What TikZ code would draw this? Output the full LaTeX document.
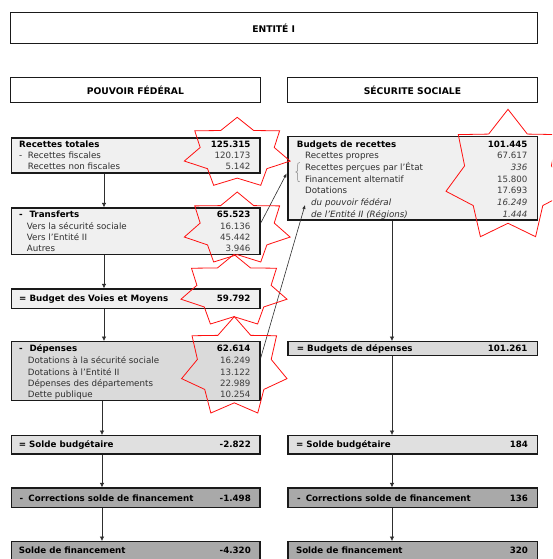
\documentclass[tikz,border=0pt]{standalone}
\usepackage{fontspec}
\setmainfont{DejaVu Sans}
\usetikzlibrary{arrows.meta}
\definecolor{lightbox}{HTML}{F0F0F0}
\definecolor{midbox}{HTML}{DADADA}
\definecolor{soldebox}{HTML}{E0E0E0}
\definecolor{darkbox}{HTML}{A9A9A9}
\definecolor{bord}{HTML}{1A1A1A}
\definecolor{txt}{HTML}{2E2E2E}
\definecolor{numtxt}{HTML}{3C3C3C}
\definecolor{starred}{HTML}{FF1010}
\newcommand\redstar[4]{%
  \begin{scope}[shift={(#1,#2)},xscale=#3,yscale=#4]
    \draw[starline] (0,-1) -- (0.312,-0.611) -- (0.802,-0.603) -- (0.700,-0.112)
      -- (1,0.287) -- (0.561,0.511) -- (0.445,1) -- (0,0.789) -- (-0.445,1)
      -- (-0.561,0.511) -- (-1,0.287) -- (-0.700,-0.112) -- (-0.802,-0.603)
      -- (-0.312,-0.611) -- cycle;
  \end{scope}}
\begin{document}
\begin{tikzpicture}[x=1pt,y=-1pt,
  hdr/.style={draw=bord, line width=0.9pt, fill=white, anchor=north west, inner sep=0,
    font=\bfseries\fontsize{9.2}{10}\selectfont},
  bx/.style={draw=bord, line width=1.3pt, anchor=north west, inner sep=0},
  lab/.style={anchor=west, inner sep=0, text height=6.3pt, text depth=0pt,
    font=\fontsize{8.7}{10}\selectfont, text=txt},
  blab/.style={lab, font=\bfseries\fontsize{8.7}{10}\selectfont, text=black},
  ilab/.style={lab, font=\itshape\fontsize{8.7}{10}\selectfont},
  num/.style={anchor=east, inner sep=0, text height=6.3pt, text depth=0pt,
    font=\fontsize{8.7}{10}\selectfont, text=numtxt},
  bnum/.style={num, font=\bfseries\fontsize{8.7}{10}\selectfont, text=black},
  inum/.style={num, font=\itshape\fontsize{8.7}{10}\selectfont},
  arr/.style={draw=txt, line width=0.6pt, -{Latex[length=4.5pt,width=4.5pt]}},
  starline/.style={draw=starred, line width=0.8pt, line join=miter},
]
\useasboundingbox (0,0) rectangle (552,559);
\clip (0,0) rectangle (552,559);
\fill[white] (0,0) rectangle (552,559);

% header boxes
\node[hdr, minimum width=526.5pt, minimum height=30.4pt] (ent) at (10,12.3) {ENTITÉ I};
\node[hdr, minimum width=250pt, minimum height=25pt] (pf) at (10,77.3) {POUVOIR FÉDÉRAL};
\node[hdr, minimum width=250pt, minimum height=25pt] (ss) at (287,77.3) {SÉCURITE SOCIALE};

% left column boxes
\node[bx, fill=lightbox, minimum width=248.3pt, minimum height=35pt] (rt) at (11,137.3) {};
\node[bx, fill=lightbox, minimum width=248.3pt, minimum height=46.7pt] (tr) at (11,207.3) {};
\node[bx, fill=lightbox, minimum width=248.3pt, minimum height=19.4pt] (bvm) at (11,288.3) {};
\node[bx, fill=midbox, minimum width=248.3pt, minimum height=59pt] (dep) at (11,341) {};
\node[bx, fill=soldebox, minimum width=248.3pt, minimum height=18.3pt] (sbl) at (11,435) {};
\node[bx, fill=darkbox, minimum width=248.3pt, minimum height=19.4pt] (csl) at (11,487.3) {};
\node[bx, fill=darkbox, minimum width=248.3pt, minimum height=30pt] (sfl) at (11,541) {};

% right column boxes
\node[bx, fill=lightbox, minimum width=249.2pt, minimum height=83.3pt] (br) at (287.3,136) {};
\node[bx, fill=midbox, minimum width=249.2pt, minimum height=14pt] (bd) at (287.3,341) {};
\node[bx, fill=soldebox, minimum width=249.2pt, minimum height=18.3pt] (sbr) at (287.3,435) {};
\node[bx, fill=darkbox, minimum width=249.2pt, minimum height=19.4pt] (csr) at (287.3,487.3) {};
\node[bx, fill=darkbox, minimum width=249.2pt, minimum height=30pt] (sfr) at (287.3,541) {};

% texts: Recettes totales
\node[blab] (t1) at (19,144) {Recettes totales};
\node[bnum] (n1) at (250.7,144) {125.315};
\node[lab] (t2d) at (19,155.7) {-};
\node[lab] (t2) at (27.7,155.7) {Recettes fiscales};
\node[num] (n2) at (250.7,155.7) {120.173};
\node[lab] (t3) at (27.7,166.7) {Recettes non fiscales};
\node[num] (n3) at (250.7,166.7) {5.142};

% Transferts
\node[blab] (t4d) at (19,214) {-};
\node[blab] (t4) at (29.3,214) {Transferts};
\node[bnum] (n4) at (250.7,214) {65.523};
\node[lab] (t5) at (26.7,226.7) {Vers la sécurité sociale};
\node[num] (n5) at (250.7,226.7) {16.136};
\node[lab] (t6) at (26.7,237.7) {Vers l'Entité II};
\node[num] (n6) at (250.7,237.7) {45.442};
\node[lab] (t7) at (26.7,248.3) {Autres};
\node[num] (n7) at (250.7,248.3) {3.946};

% Budget des Voies et Moyens
\node[blab] (t8) at (19,298.3) {= Budget des Voies et Moyens};
\node[bnum] (n8) at (250.7,298.3) {59.792};

% Depenses
\node[blab] (t9d) at (19,348.3) {-};
\node[blab] (t9) at (29.3,348.3) {Dépenses};
\node[bnum] (n9) at (250.7,348.3) {62.614};
\node[lab] (t10) at (27.7,360.7) {Dotations à la sécurité sociale};
\node[num] (n10) at (250.7,360.7) {16.249};
\node[lab] (t11) at (27.7,372) {Dotations à l'Entité II};
\node[num] (n11) at (250.7,372) {13.122};
\node[lab] (t12) at (27.7,383.3) {Dépenses des départements};
\node[num] (n12) at (250.7,383.3) {22.989};
\node[lab] (t13) at (27.7,394.7) {Dette publique};
\node[num] (n13) at (250.7,394.7) {10.254};

% lower left
\node[blab] (t14) at (18.7,444.7) {= Solde budgétaire};
\node[bnum] (n14) at (251,444.7) {-2.822};
\node[blab] (t15d) at (19.4,498.3) {-};
\node[blab] (t15) at (28.2,498.3) {Corrections solde de financement};
\node[bnum] (n15) at (251,498.3) {-1.498};
\node[blab] (t16) at (18.7,550.7) {Solde de financement};
\node[bnum] (n16) at (251,550.7) {-4.320};

% Budgets de recettes
\node[blab] (r1) at (296.7,144) {Budgets de recettes};
\node[bnum] (m1) at (527.7,144) {101.445};
\node[lab] (r2) at (305,155.7) {Recettes propres};
\node[num] (m2) at (527.7,155.7) {67.617};
\node[lab] (r3) at (305,167.4) {Recettes perçues par l'État};
\node[inum] (m3) at (527.7,167.4) {336};
\node[lab] (r4) at (305,179.1) {Financement alternatif};
\node[num] (m4) at (527.7,179.1) {15.800};
\node[lab] (r5) at (305,190.8) {Dotations};
\node[num] (m5) at (527.7,190.8) {17.693};
\node[ilab] (r6) at (311,202.5) {du pouvoir fédéral};
\node[inum] (m6) at (527.7,202.5) {16.249};
\node[ilab] (r7) at (311,214.2) {de l'Entité II (Régions)};
\node[inum] (m7) at (527.7,214.2) {1.444};

% bracket
\draw[draw=gray, line width=0.5pt] (299.8,162.5) .. controls (297.8,162.5) and (297.6,163.5) .. (297.6,165.5)
  -- (297.6,169.8) .. controls (297.6,171.3) and (296.8,172) .. (295.8,172)
  .. controls (296.8,172) and (297.6,172.7) .. (297.6,174.2)
  -- (297.6,179) .. controls (297.6,181) and (297.8,181.8) .. (299.8,181.8);
\coordinate (brk) at (286.6,173.5);
\coordinate (dpf) at (305,205);

% right lower texts
\node[blab] (r8) at (296.7,348.3) {= Budgets de dépenses};
\node[bnum] (m8) at (527.7,348.3) {101.261};
\node[blab] (r9) at (295.8,444.7) {= Solde budgétaire};
\node[bnum] (m9) at (528.2,444.7) {184};
\node[blab] (r10d) at (296.8,498.3) {-};
\node[blab] (r10) at (305.6,498.3) {Corrections solde de financement};
\node[bnum] (m10) at (528.2,498.3) {136};
\node[blab] (r11) at (295.8,550.7) {Solde de financement};
\node[bnum] (m11) at (528.2,550.7) {320};

% vertical arrows
\coordinate (axL) at (104,0);
\coordinate (axL2) at (102,0);
\coordinate (axR) at (392,0);
\draw[arr] (rt.south -| axL) -- (tr.north -| axL);
\draw[arr] (tr.south -| axL) -- (bvm.north -| axL);
\draw[arr] (bvm.south -| axL) -- (dep.north -| axL);
\draw[arr] (dep.south -| axL2) -- (sbl.north -| axL2);
\draw[arr] (sbl.south -| axL2) -- (csl.north -| axL2);
\draw[arr] (csl.south -| axL2) -- (sfl.north -| axL2);
\draw[arr] (br.south -| axR) -- (bd.north -| axR);
\draw[arr] (bd.south -| axR) -- (sbr.north -| axR);
\draw[arr] (sbr.south -| axR) -- (csr.north -| axR);
\draw[arr] (csr.south -| axR) -- (sfr.north -| axR);

% cross arrows
\draw[arr, -{Latex[length=4pt,width=3.5pt]}] (tr.east |- 0,223.3) -- (brk);
\draw[arr, -{Latex[length=4pt,width=3.5pt]}] (dep.east |- 0,358.3) -- (dpf);

% red stars
\redstar{237.2}{151.3}{52.9}{34}
\redstar{237.2}{227}{52.9}{35}
\redstar{234}{289.2}{53}{34.8}
\redstar{234.3}{364.8}{52.7}{48.2}
\redstar{508}{173}{62}{63.7}
\end{tikzpicture}
\end{document}
